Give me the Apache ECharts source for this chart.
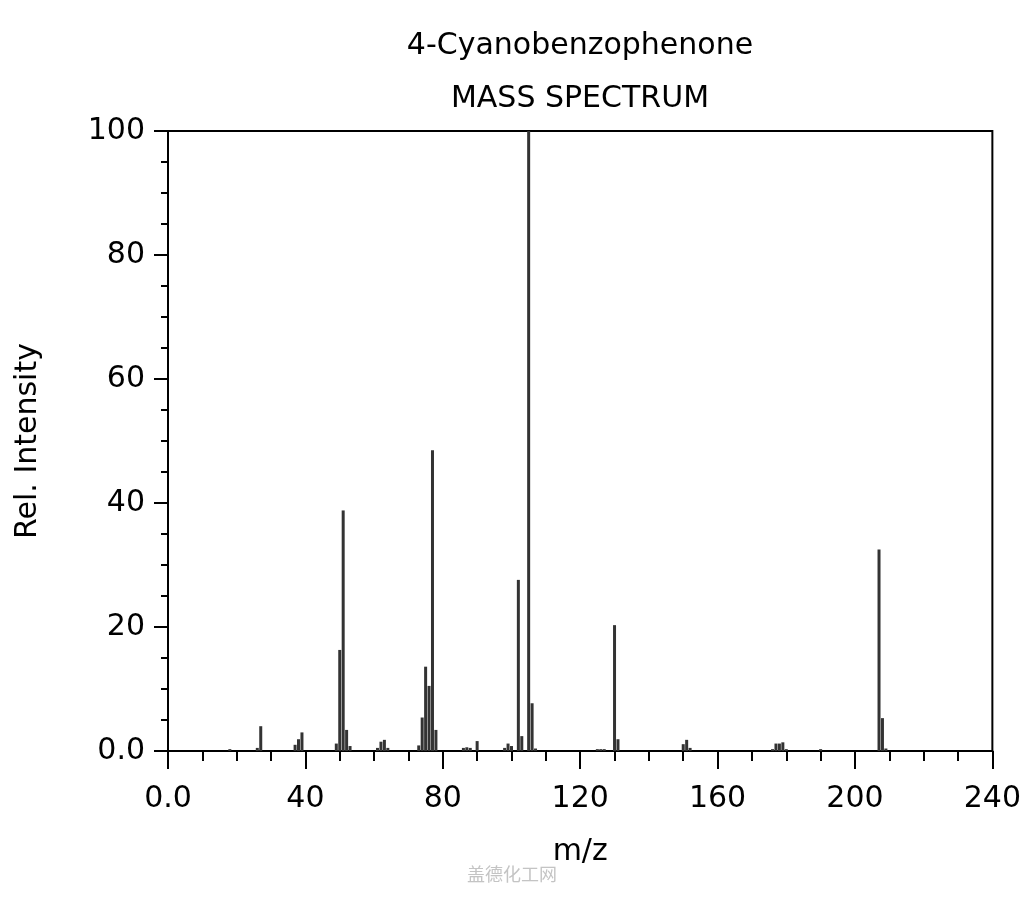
<!DOCTYPE html>
<html>
<head>
<meta charset="utf-8">
<script src="https://cdn.jsdelivr.net/npm/echarts@6/dist/echarts.min.js"></script>
<style>
  html, body { margin: 0; padding: 0; background: #fff; }
  #chart { width: 1024px; height: 900px; }
</style>
</head>
<body>
<div id="chart"></div>
<script>
// peaks
var mzValues = [18, 26, 27, 37, 38, 39, 49, 50, 51, 52, 53, 61, 62, 63, 64,
  73, 74, 75, 76, 77, 78, 86, 87, 88, 90, 98, 99, 100, 102, 103, 105, 106, 107,
  125, 126, 127, 130, 131, 150, 151, 152, 176, 177, 178, 179, 180, 190, 207, 208, 209]
var intensities = [0.3, 0.5, 4.0, 1.0, 1.9, 3.0, 1.2, 16.3, 38.8, 3.4, 0.8, 0.5, 1.5, 1.8, 0.5,
  0.9, 5.4, 13.6, 10.5, 48.5, 3.4, 0.5, 0.6, 0.5, 1.6, 0.5, 1.2, 0.8, 27.6, 2.4, 100, 7.7, 0.4,
  0.3, 0.3, 0.3, 20.3, 1.9, 1.1, 1.8, 0.5, 0.3, 1.2, 1.2, 1.4, 0.3, 0.3, 32.5, 5.3, 0.4]
var xTicks = [0, 240, 40]
var yTicks = [0, 100, 20]
var titleLines = ['4-Cyanobenzophenone', 'MASS SPECTRUM']

var peaks = []
for (var i = 0; i < mzValues.length; i++) {
  peaks.push([mzValues[i], intensities[i]])
}

function tickFormat (v) {
  return v === 0 ? '0.0' : String(v)
}

var font = 'DejaVu Sans'
var chart = echarts.init(document.getElementById('chart'))
var option = {
  animation: false,
  backgroundColor: '#fff',
  grid: {
    left: 168,
    right: 31,
    top: 131,
    bottom: 149,
    show: true,
    borderColor: '#000',
    borderWidth: 2
  },
  graphic: [
    { type: 'text', x: 580, y: 46, style: { text: titleLines[0], font: '30px "DejaVu Sans"', fill: '#000', align: 'center', verticalAlign: 'middle' } },
    { type: 'text', x: 580, y: 99, style: { text: titleLines[1], font: '30px "DejaVu Sans"', fill: '#000', align: 'center', verticalAlign: 'middle' } },
    { type: 'text', x: 512, y: 874, style: { text: '盖德化工网', font: '18px "Noto Sans CJK SC"', fill: '#c4c4c4', align: 'center', verticalAlign: 'middle' } }
  ],
  xAxis: {
    type: 'value',
    min: xTicks[0],
    max: xTicks[1],
    interval: xTicks[2],
    name: 'm/z',
    nameLocation: 'middle',
    nameGap: 86,
    nameTextStyle: { fontFamily: font, fontSize: 30, color: '#000' },
    axisLine: { lineStyle: { color: '#000', width: 2 } },
    axisTick: { length: 18, lineStyle: { color: '#000', width: 2 } },
    minorTick: { show: true, splitNumber: 4, length: 10, lineStyle: { color: '#000', width: 2 } },
    splitLine: { show: false },
    axisLabel: { fontFamily: font, fontSize: 30, color: '#000', margin: 33, formatter: tickFormat }
  },
  yAxis: {
    type: 'value',
    min: yTicks[0],
    max: yTicks[1],
    interval: yTicks[2],
    name: 'Rel. Intensity',
    nameLocation: 'middle',
    nameGap: 125,
    nameTextStyle: { fontFamily: font, fontSize: 30, color: '#000' },
    axisLine: { show: true, lineStyle: { color: '#000', width: 2 } },
    axisTick: { show: true, length: 14, lineStyle: { color: '#000', width: 2 } },
    minorTick: { show: true, splitNumber: 4, length: 7, lineStyle: { color: '#000', width: 2 } },
    splitLine: { show: false },
    axisLabel: { fontFamily: font, fontSize: 30, color: '#000', margin: 23, formatter: tickFormat }
  },
  series: [{
    type: 'bar',
    data: peaks,
    barWidth: 3,
    itemStyle: { color: '#333' }
  }]
}
chart.setOption(option)
</script>
</body>
</html>
